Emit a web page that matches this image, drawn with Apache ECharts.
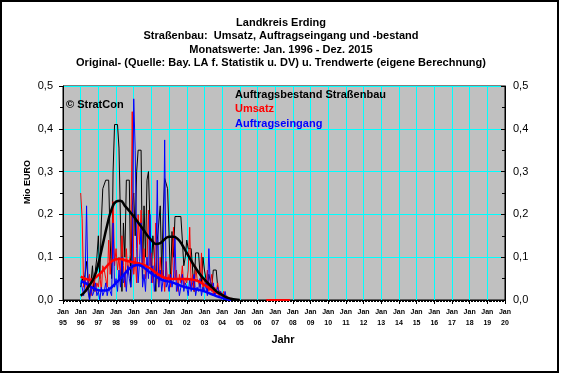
<!DOCTYPE html>
<html>
<head>
<meta charset="utf-8">
<script src="https://cdn.jsdelivr.net/npm/echarts@6/dist/echarts.min.js"></script>
<style>html,body{margin:0;padding:0;background:#fff}#c{width:562px;height:376px}</style>
</head>
<body>
<div id="c"></div>
<script>
// ---- data (monthly values from Jan 1996, Mio EURO) ----
const startYear = 1996;
const bestand = [
 0.03,0.05,0.04,0.06,0.09,0.05,0.00,0.04,0.08,0.02,0.07,0.10,
 0.15,0.05,0.18,0.26,0.26,0.28,0.28,0.28,0.14,0.05,0.30,0.41,
 0.41,0.41,0.355,0.355,0.02,0.18,0.10,0.28,0.28,0.28,0.03,0.22,
 0.25,0.15,0.30,0.35,0.35,0.35,0.05,0.22,0.10,0.28,0.30,0.30,
 0.06,0.15,0.10,0.02,0.14,0.18,0.22,0.06,0.20,0.284,0.284,0.26,
 0.26,0.04,0.16,0.10,0.195,0.195,0.195,0.195,0.195,0.14,0.08,0.10,
 0.14,0.12,0.12,0.12,0.12,0.02,0.11,0.11,0.11,0.06,0.04,0.10,
 0.07,0.05,0.02,0.06,0.06,0.03,0.07,0.07,0.07,0.03,0.02,0.02,
 0.01,0.005,0,0,0,0,0,0,0,0,0,0
];
const umsatz = [
 0.25,0.19,0.03,0.05,0.02,0.04,0.06,0.01,0.03,0.05,0.02,0.04,
 0.03,0.06,0.02,0.08,0.07,0.05,0.03,0.14,0.06,0.10,0.23,0.08,
 0.12,0.07,0.10,0.05,0.15,0.08,0.03,0.12,0.06,0.09,0.11,0.44,
 0.06,0.10,0.04,0.20,0.13,0.21,0.07,0.12,0.05,0.09,0.21,0.08,
 0.11,0.04,0.08,0.18,0.06,0.03,0.10,0.05,0.07,0.02,0.09,0.04,
 0.06,0.03,0.08,0.17,0.05,0.07,0.02,0.06,0.04,0.08,0.03,0.05,
 0.04,0.07,0.17,0.03,0.06,0.02,0.08,0.05,0.04,0.03,0.11,0.02,
 0.05,0.03,0.07,0.02,0.04,0.06,0.01,0.03,0.02,0.04,0.01,0.02,
 0.01,0.02,0.00,0.01,0,0
];
const umsatzLateStart = 2006.5;
const umsatzLate = [0,0,0,0,0,0,0,0,0,0,0,0,0,0,0,0,0];
const eingang = [
 0.04,0.03,0.01,0.05,0.22,0.02,0.00,0.03,0.01,0.02,0.04,0.01,
 0.02,0.00,0.03,0.01,0.02,0.04,0.01,0.03,0.02,0.01,0.18,0.03,
 0.05,0.02,0.07,0.03,0.10,0.04,0.06,0.02,0.08,0.05,0.03,0.07,
 0.47,0.35,0.12,0.04,0.09,0.18,0.03,0.06,0.02,0.10,0.05,0.20,
 0.04,0.08,0.02,0.06,0.28,0.03,0.07,0.02,0.05,0.374,0.03,0.04,
 0.02,0.06,0.03,0.05,0.15,0.02,0.04,0.01,0.03,0.06,0.02,0.04,
 0.03,0.01,0.05,0.02,0.04,0.06,0.01,0.03,0.02,0.05,0.01,0.03,
 0.02,0.04,0.01,0.12,0.03,0.02,0.04,0.01,0.02,0.03,0.01,0.02,
 0.01,0.00,0.02,0.00,0,0
];
// trend values, quarterly from 1996.0
const trendStep = 0.25;
const trendBestand = [0.010,0.020,0.035,0.052,0.085,0.130,0.175,0.212,0.230,0.232,0.220,0.208,0.195,0.181,0.167,0.152,0.140,0.131,0.133,0.142,0.148,0.148,0.142,0.128,0.110,0.092,0.075,0.060,0.048,0.037,0.027,0.018,0.012,0.006,0.003,0.001,0.0];
const trendUmsatz = [0.055,0.050,0.047,0.050,0.058,0.068,0.080,0.090,0.095,0.096,0.093,0.090,0.088,0.086,0.083,0.078,0.072,0.064,0.057,0.052,0.050,0.049,0.049,0.049,0.049,0.048,0.046,0.042,0.035,0.028,0.022,0.016,0.011,0.006,0.002];
const trendEingang = [0.044,0.040,0.033,0.027,0.023,0.022,0.023,0.030,0.040,0.050,0.062,0.073,0.080,0.082,0.078,0.070,0.062,0.055,0.049,0.045,0.043,0.040,0.036,0.032,0.029,0.027,0.025,0.023,0.020,0.016,0.012,0.008,0.005,0.002,0.0];
const yTicks = ['0,0','0,1','0,2','0,3','0,4','0,5'];

function monthly(arr, y0){ return arr.map((v,i)=>[y0 + i/12, v]); }
function quarterly(arr){ return arr.map((v,i)=>[startYear + i*trendStep, v]); }

const chart = echarts.init(document.getElementById('c'), null, {renderer:'canvas'});
const F = 'Arial, "Liberation Sans", sans-serif';
const yAxisBase = {
  type:'value', min:0, max:0.5, interval:0.1,
  axisLine:{show:true, lineStyle:{color:'#000', width:1}},
  axisTick:{show:true, length:4, lineStyle:{color:'#000'}},
  minorTick:{show:true, splitNumber:2, length:3, lineStyle:{color:'#000'}},
  axisLabel:{color:'#000', fontSize:11, fontFamily:F, formatter:(v)=>yTicks[Math.round(v*10)]}
};
chart.setOption({
  animation:false,
  backgroundColor:'#fff',
  grid:{left:63, right:57, top:86, bottom:76, show:true, backgroundColor:'#C0C0C0', borderColor:'#000', borderWidth:1},
  xAxis:{
    type:'value', min:1995, max:2020, interval:1,
    axisLine:{show:true, onZero:false, lineStyle:{color:'#000'}},
    axisTick:{show:true, length:4, lineStyle:{color:'#000'}},
    minorTick:{show:true, splitNumber:12, length:2, lineStyle:{color:'#000'}},
    splitLine:{show:true, lineStyle:{color:'#00FFFF', width:1}},
    axisLabel:{margin:7, fontSize:7, fontWeight:'bold', fontFamily:F, color:'#000', lineHeight:11,
      formatter:(v)=>'Jan\n'+String(v).slice(2)}
  },
  yAxis:[
    Object.assign({}, yAxisBase, {position:'left', splitLine:{show:true, lineStyle:{color:'#00FFFF', width:1}}, axisLabel:Object.assign({}, yAxisBase.axisLabel, {margin:10})}),
    Object.assign({}, yAxisBase, {position:'right', splitLine:{show:false}, axisTick:{show:true, inside:true, length:4, lineStyle:{color:'#000'}}, minorTick:{show:true, splitNumber:2, length:3, lineStyle:{color:'#000'}}, axisLabel:Object.assign({}, yAxisBase.axisLabel, {margin:8})})
  ],
  series:[
    {name:'Auftragsbestand Straßenbau', type:'line', data:monthly(bestand,startYear), showSymbol:false, lineStyle:{color:'#000', width:1}, z:2},
    {name:'Umsatz', type:'line', data:monthly(umsatz,startYear), showSymbol:false, lineStyle:{color:'#FF0000', width:1}, z:3},
    {name:'Umsatz2', type:'line', data:monthly(umsatzLate,umsatzLateStart), showSymbol:false, lineStyle:{color:'#FF0000', width:2}, z:3},
    {name:'Auftragseingang', type:'line', data:monthly(eingang,startYear), showSymbol:false, lineStyle:{color:'#0000FF', width:1}, z:4},
    {name:'Trend Umsatz', type:'line', data:quarterly(trendUmsatz), smooth:true, showSymbol:false, lineStyle:{color:'#FF0000', width:2.5}, z:5},
    {name:'Trend Eingang', type:'line', data:quarterly(trendEingang), smooth:true, showSymbol:false, lineStyle:{color:'#0000FF', width:2.5}, z:6},
    {name:'Trend Bestand', type:'line', data:quarterly(trendBestand), smooth:true, showSymbol:false, lineStyle:{color:'#000', width:2.5}, z:7}
  ],
  graphic:[
    {type:'rect', shape:{x:1,y:1,width:557,height:371}, style:{fill:'none', stroke:'#000', lineWidth:2}, silent:true, z:100},
    {type:'text', x:281, y:23, style:{text:'Landkreis Erding', font:'bold 11px '+F, fill:'#000', textAlign:'center', textVerticalAlign:'middle'}},
    {type:'text', x:281, y:36, style:{text:'Straßenbau:  Umsatz, Auftragseingang und -bestand', font:'bold 11px '+F, fill:'#000', textAlign:'center', textVerticalAlign:'middle'}},
    {type:'text', x:281, y:49.5, style:{text:'Monatswerte: Jan. 1996 - Dez. 2015', font:'bold 11px '+F, fill:'#000', textAlign:'center', textVerticalAlign:'middle'}},
    {type:'text', x:281, y:63, style:{text:'Original- (Quelle: Bay. LA f. Statistik u. DV) u. Trendwerte (eigene Berechnung)', font:'bold 11px '+F, fill:'#000', textAlign:'center', textVerticalAlign:'middle'}},
    {type:'text', x:66, y:105, z:50, style:{text:'© StratCon', font:'bold 11px '+F, fill:'#000', textAlign:'left', textVerticalAlign:'middle'}},
    {type:'text', x:235, y:95, z:50, style:{text:'Auftragsbestand Straßenbau', font:'bold 11px '+F, fill:'#000', textAlign:'left', textVerticalAlign:'middle'}},
    {type:'text', x:235, y:109, z:50, style:{text:'Umsatz', font:'bold 11px '+F, fill:'#FF0000', textAlign:'left', textVerticalAlign:'middle'}},
    {type:'text', x:235, y:124, z:50, style:{text:'Auftragseingang', font:'bold 11px '+F, fill:'#0000FF', textAlign:'left', textVerticalAlign:'middle'}},
    {type:'text', x:28, y:182, rotation:Math.PI/2, style:{text:'Mio EURO', font:'bold 9px '+F, fill:'#000', textAlign:'center', textVerticalAlign:'middle'}},
    {type:'text', x:283, y:340, style:{text:'Jahr', font:'bold 11px '+F, fill:'#000', textAlign:'center', textVerticalAlign:'middle'}}
  ]
});
</script>
</body>
</html>
